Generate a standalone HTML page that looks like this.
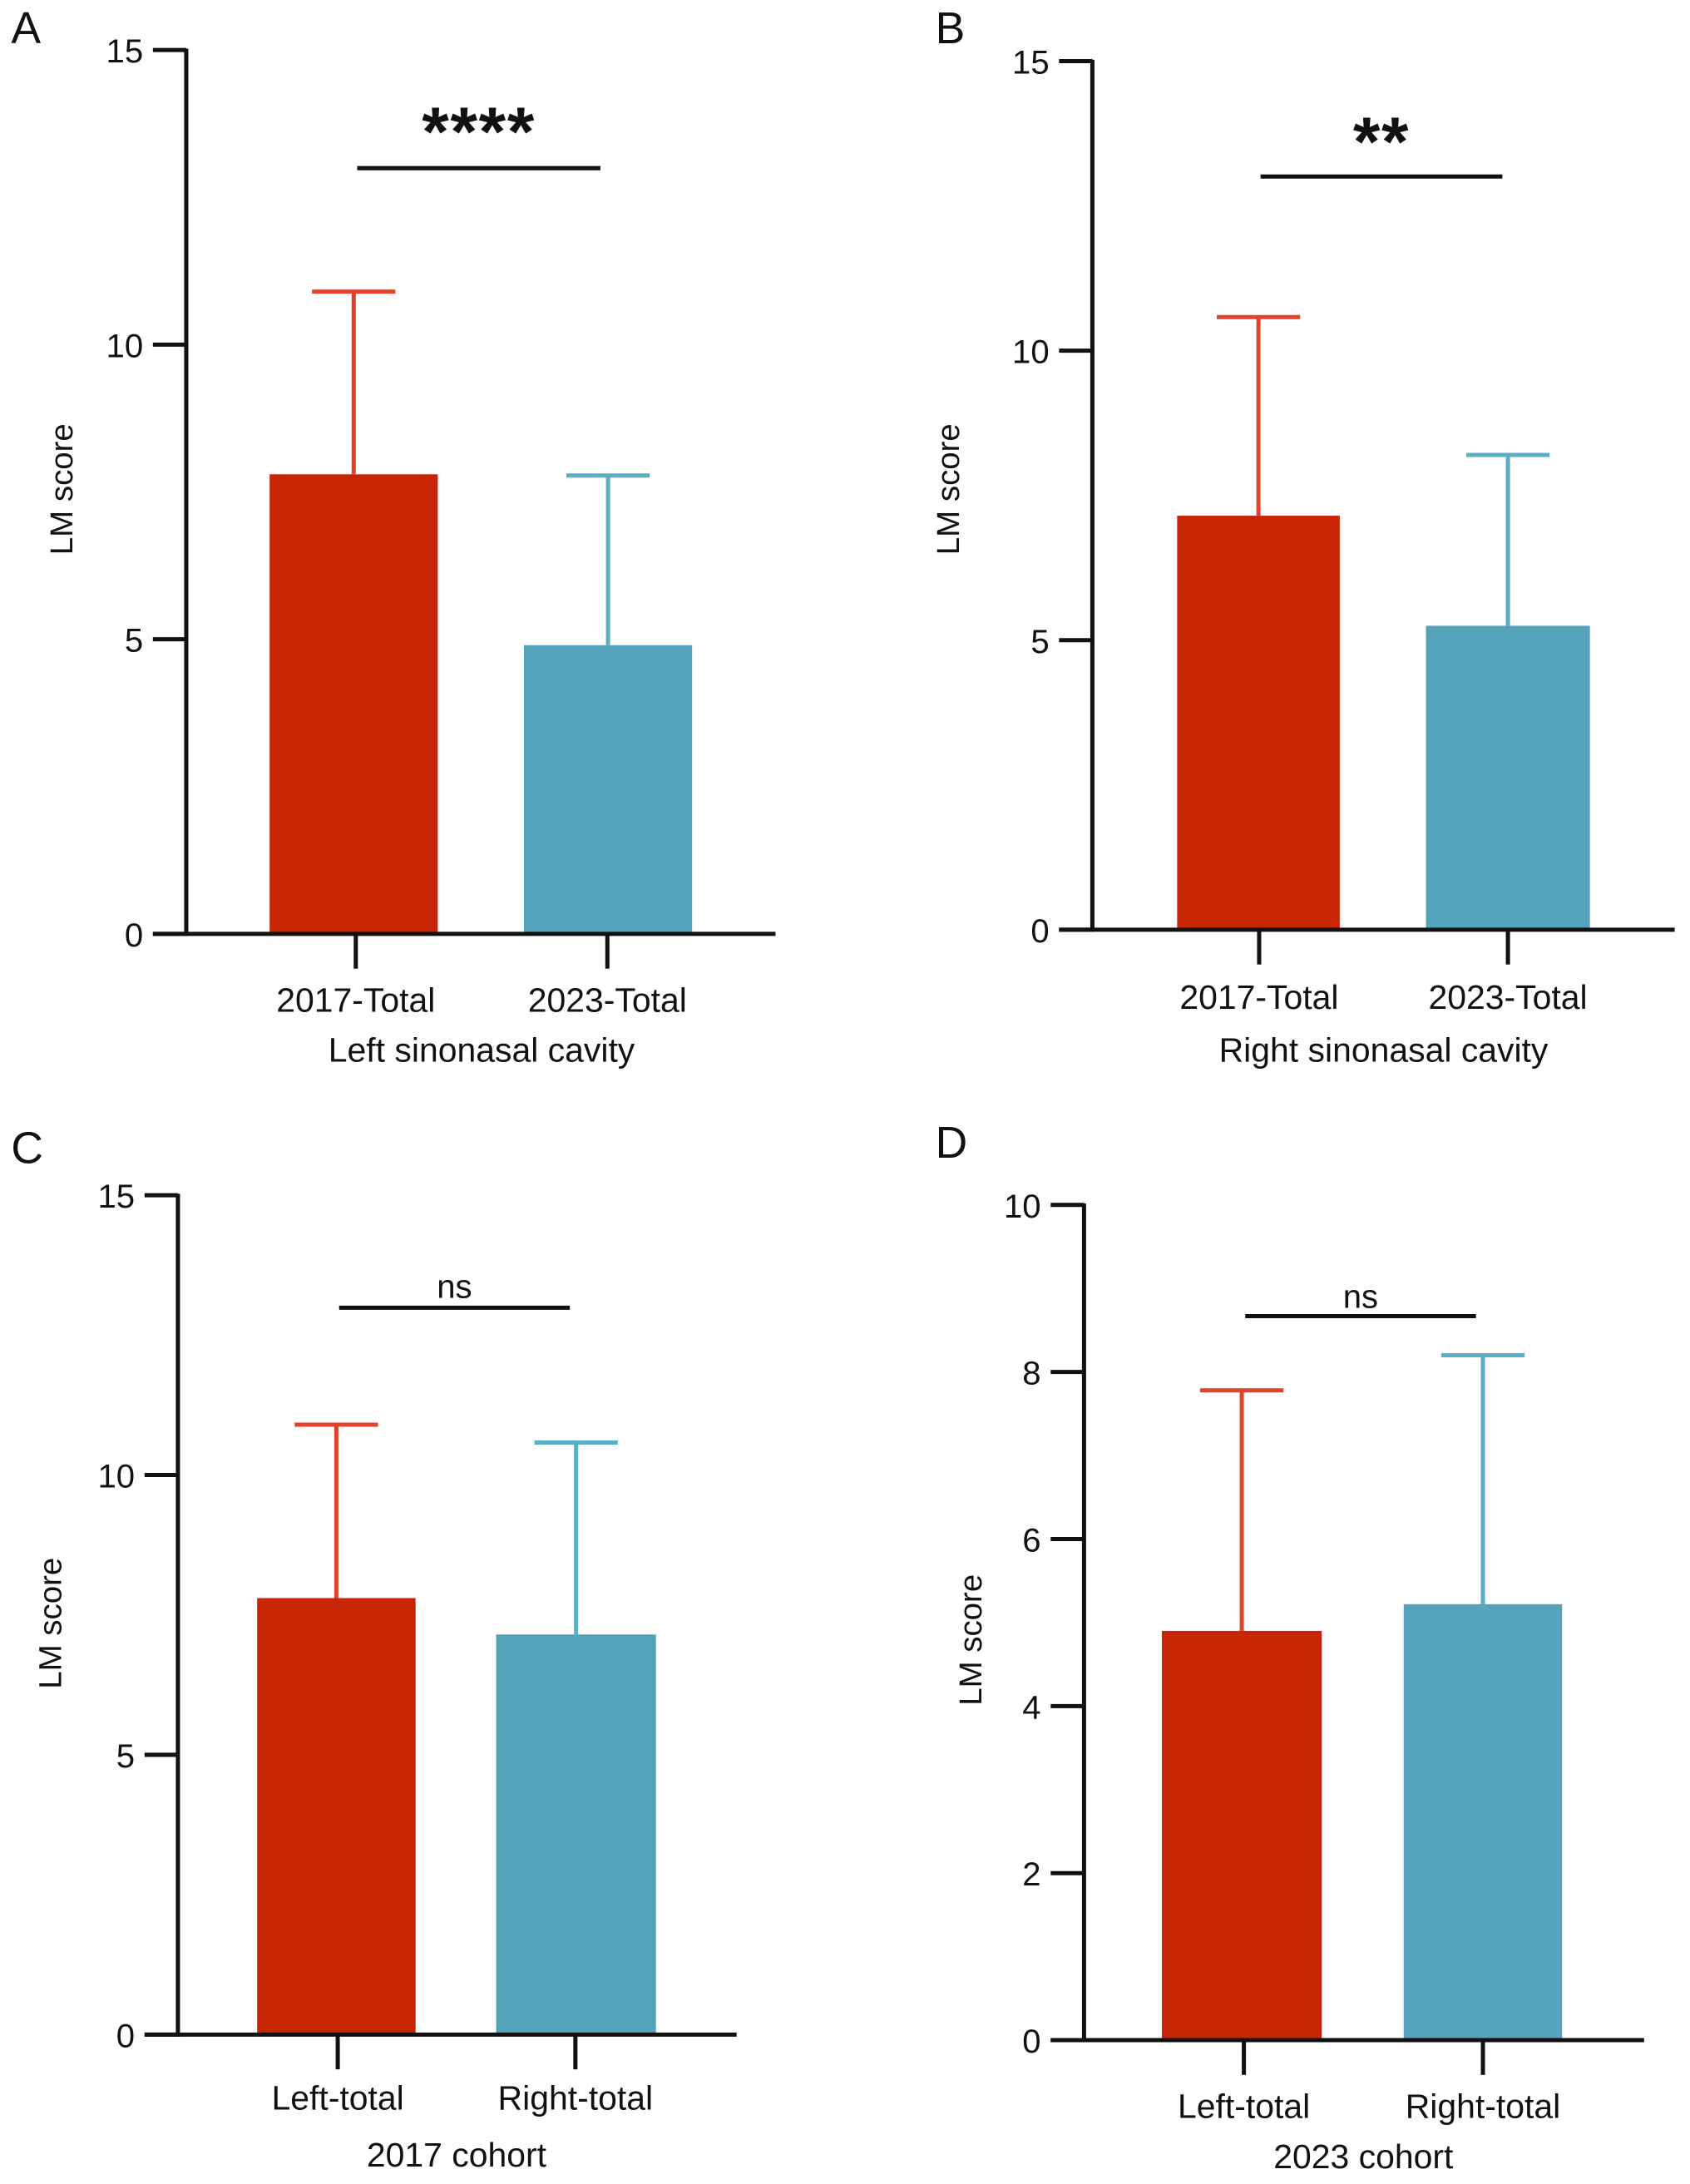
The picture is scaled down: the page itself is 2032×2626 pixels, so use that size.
<!DOCTYPE html>
<html><head><meta charset="utf-8"><style>
html,body{margin:0;padding:0;background:#fff}
svg{display:block}
text{font-family:"Liberation Sans",Arial,sans-serif;fill:#111}
</style></head><body>
<svg id="fig" width="2032" height="2626" viewBox="0 0 1216 1571.5" xmlns="http://www.w3.org/2000/svg"></svg>
<script>
// Panel data
const panelLetters = ["A","B","C","D"];
const categoriesA = ["2017-Total","2023-Total"];
const categoriesB = ["2017-Total","2023-Total"];
const categoriesC = ["Left-total","Right-total"];
const categoriesD = ["Left-total","Right-total"];
const meansA = [7.8, 4.9];
const meansB = [7.15, 5.25];
const meansC = [7.8, 7.15];
const meansD = [4.9, 5.22];
const errTopA = [10.9, 7.78];
const errTopB = [10.58, 8.2];
const errTopC = [10.9, 10.58];
const errTopD = [7.78, 8.2];
const ticksA = [0,5,10,15];
const ticksB = [0,5,10,15];
const ticksC = [0,5,10,15];
const ticksD = [0,2,4,6,8,10];
const sigLabels = ["****","**","ns","ns"];
const xTitles = ["Left sinonasal cavity","Right sinonasal cavity","2017 cohort","2023 cohort"];

const layouts = [
 {ax:134,y0:672,yTop:36,yMax:15,xl:110,xr:558,bars:[[194,315],[377,498]],ticksX:[256,437],sig:[257,432,121],sigY:100,sigBig:true,tickLblY:728,xtY:764,ylX:52,ylY:352,letter:[8,31]},
 {ax:786,y0:669,yTop:44,yMax:15,xl:762,xr:1205,bars:[[847,964],[1026,1144]],ticksX:[906,1085],sig:[907,1081,127],sigY:107,sigBig:true,tickLblY:726,xtY:764,ylX:690,ylY:352,letter:[673,31]},
 {ax:128,y0:1464,yTop:860,yMax:15,xl:104,xr:530,bars:[[185,299],[357,472]],ticksX:[243,414],sig:[244,410,941],sigY:934,sigBig:false,tickLblY:1518,xtY:1559,ylX:44,ylY:1168,letter:[8,837]},
 {ax:780,y0:1468,yTop:867,yMax:10,xl:756,xr:1183,bars:[[836,951],[1010,1124]],ticksX:[895,1067],sig:[896,1062,947],sigY:941,sigBig:false,tickLblY:1524,xtY:1560,ylX:706,ylY:1180,letter:[673,833]}
];
const cats=[categoriesA,categoriesB,categoriesC,categoriesD];
const means=[meansA,meansB,meansC,meansD];
const errs=[errTopA,errTopB,errTopC,errTopD];
const ticks=[ticksA,ticksB,ticksC,ticksD];
const fill=["#C82505","#55A3BA"];
const errCol=["#E0432A","#5AAEC6"];
const svg=document.getElementById('fig');
const NS="http://www.w3.org/2000/svg";
function mk(tag,attrs,txt){const e=document.createElementNS(NS,tag);for(const k in attrs)e.setAttribute(k,attrs[k]);if(txt!==undefined)e.textContent=txt;svg.appendChild(e);return e;}

layouts.forEach((L,p)=>{
 const y=v=>L.y0-(v/L.yMax)*(L.y0-L.yTop);
 let e=mk('text',{x:L.letter[0],y:L.letter[1],'font-size':32},panelLetters[p]);
 
 
 means[p].forEach((m,i)=>{
  const [x1,x2]=L.bars[i],cx=(x1+x2)/2;
  let b=mk('rect',{x:x1,y:y(m),width:x2-x1,height:L.y0-y(m),fill:fill[i]});
  
  
  let l=mk('line',{x1:cx,x2:cx,y1:y(m),y2:y(errs[p][i]),stroke:errCol[i],'stroke-width':3});
  
  
  let c=mk('line',{x1:cx-30,x2:cx+30,y1:y(errs[p][i]),y2:y(errs[p][i]),stroke:errCol[i],'stroke-width':3});
  
  
 });
 let ya=mk('line',{x1:L.ax,x2:L.ax,y1:L.yTop-1,y2:L.y0+1.5,stroke:'#111','stroke-width':3});
 
 let xa=mk('line',{x1:L.xl,x2:L.xr,y1:L.y0,y2:L.y0,stroke:'#111','stroke-width':3});
 
 ticks[p].forEach(t=>{
  let tk=mk('line',{x1:L.ax-24,x2:L.ax,y1:y(t),y2:y(t),stroke:'#111','stroke-width':3});
  
  let tl=mk('text',{x:L.ax-31,y:y(t)+9,'font-size':24,'text-anchor':'end'},String(t));
  
 });
 cats[p].forEach((c,i)=>{
  let tk=mk('line',{x1:L.ticksX[i],x2:L.ticksX[i],y1:L.y0,y2:L.y0+25,stroke:'#111','stroke-width':3});
  
  let tl=mk('text',{x:L.ticksX[i],y:L.tickLblY,'font-size':24.5,'text-anchor':'middle'},c);
  
 });
 let xt=mk('text',{x:(L.ticksX[0]+L.ticksX[1])/2,y:L.xtY,'font-size':24.5,'text-anchor':'middle'},xTitles[p]);
 
 let yt=mk('text',{x:0,y:0,'font-size':23,'text-anchor':'middle',transform:`translate(${L.ylX},${L.ylY}) rotate(-90)`},'LM score');
 
 let sl=mk('line',{x1:L.sig[0],x2:L.sig[1],y1:L.sig[2],y2:L.sig[2],stroke:'#111','stroke-width':3});
 
 let st=mk('text',{x:(L.sig[0]+L.sig[1])/2,y:L.sigBig?L.sigY+12:L.sigY,'font-size':L.sigBig?50:24,'font-weight':L.sigBig?'bold':'normal','text-anchor':'middle','letter-spacing':L.sigBig?1:0},sigLabels[p]);
 
});
</script>
</body></html>
